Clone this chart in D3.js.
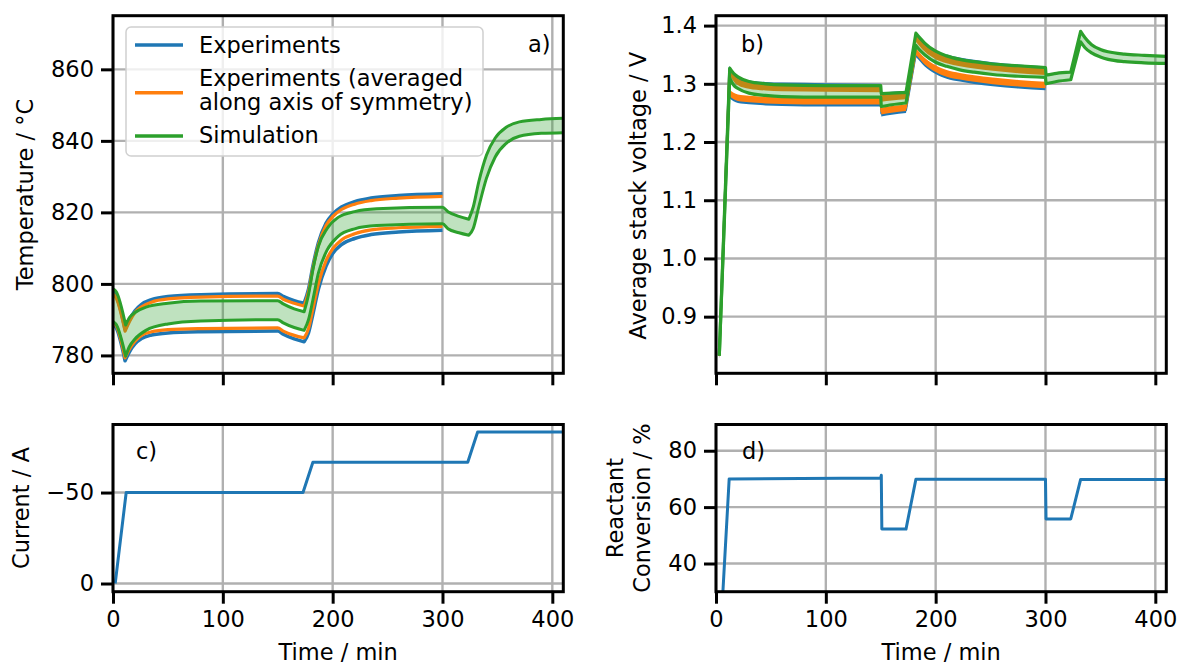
<!DOCTYPE html>
<html lang="en">
<head>
<meta charset="UTF-8">
<title>Stack temperature, voltage, current and conversion</title>
<style>
  body { margin: 0; background: #fff; }
  text { font-family: "DejaVu Sans", sans-serif; fill: #000; }
</style>
</head>
<body>
<script src="https://d3js.org/d3.v7.min.js"></script>
<div id="chart"></div>
<script>
// ---- data ----
const xTicks = [0, 100, 200, 300, 400]

// a) temperature, simulation band
const tempSimTime = [0, 3, 11.5, 15, 20, 30, 50, 80, 150, 155, 165, 174, 178, 182, 187, 195, 205, 220, 240, 300, 305, 315, 324, 328, 333, 340, 348, 358, 370, 390, 410]
const tempSimHi = [798.6, 797.8, 788.5, 790.6, 792, 793.5, 794.6, 795.2, 795.3, 794.4, 793, 792.2, 797, 804, 810.5, 815.5, 818.6, 820.2, 821, 821.4, 820.2, 818.9, 818.1, 821.5, 828.5, 836, 840.8, 843.8, 845.3, 846, 846.3]
const tempSimLo = [789.5, 788.6, 779.8, 782.5, 784.6, 787, 788.8, 789.6, 790, 789.1, 787.8, 787, 790, 795.5, 803, 809.5, 813.3, 815.4, 816.3, 816.8, 815.4, 814.3, 813.6, 815.5, 821.5, 829.5, 835.5, 839.3, 841.3, 842.1, 842.3]
// a) temperature, experiments
const tempExpTime = [0, 3, 11, 15, 20, 26, 35, 50, 80, 150, 155, 165, 174, 178, 182, 187, 194, 200, 208, 220, 235, 260, 300]
const tempExpHi = [797.6, 796.5, 787.3, 790, 792.5, 794.3, 795.6, 796.5, 797, 797.3, 796.5, 795.3, 794.6, 798.5, 805, 811.5, 817, 819.5, 821.5, 823, 824, 824.7, 825.2]
const tempExpLo = [788.8, 787.7, 778.5, 781, 783.2, 784.7, 785.7, 786.3, 786.6, 786.8, 785.9, 784.6, 783.8, 786.3, 791.5, 798.5, 805, 808.5, 811, 812.7, 813.8, 814.5, 815]
const tempAvgHi = [797.2, 796, 786.8, 789.5, 792, 793.6, 794.9, 795.8, 796.3, 796.6, 795.7, 794.6, 793.8, 797.8, 804.3, 810.8, 816.3, 818.8, 820.8, 822.3, 823.3, 824, 824.5]
const tempAvgLo = [789.3, 788.3, 779.3, 781.8, 784, 785.6, 786.6, 787.2, 787.5, 787.7, 786.8, 785.6, 784.9, 787.5, 793, 800, 806.5, 809.8, 812.3, 814, 815.1, 815.7, 816.1]
const tempTicks = [780, 800, 820, 840, 860]
// times where the curves have a corner (dip, jump, peak)
const tempSimCorners = [11.5, 174, 324]
const tempExpCorners = [11, 174]

// b) voltage, simulation band
const voltSimTime = [3, 12.5, 16, 20, 30, 45, 60, 100, 150, 150.5, 160, 173, 182, 186, 190, 200, 210, 222, 235, 252, 275, 300, 300.5, 310, 323, 332, 336, 342, 350, 357, 372, 390, 410]
const voltSimHi = [0.833, 1.327, 1.318, 1.312, 1.304, 1.300, 1.298, 1.297, 1.297, 1.283, 1.284, 1.285, 1.387, 1.378, 1.370, 1.356, 1.348, 1.342, 1.338, 1.334, 1.331, 1.328, 1.315, 1.318, 1.320, 1.390, 1.379, 1.367, 1.359, 1.355, 1.351, 1.349, 1.347]
const voltSimLo = [0.833, 1.310, 1.298, 1.292, 1.284, 1.280, 1.278, 1.277, 1.277, 1.261, 1.264, 1.267, 1.366, 1.357, 1.350, 1.337, 1.330, 1.324, 1.320, 1.316, 1.313, 1.311, 1.300, 1.304, 1.307, 1.372, 1.362, 1.353, 1.346, 1.342, 1.338, 1.336, 1.335]
// b) voltage, experiments
const voltExpTime = [3, 12, 16, 20, 30, 45, 60, 100, 150, 150.5, 160, 173, 182, 186, 190, 200, 210, 222, 235, 252, 275, 300]
const voltExpHi = [0.833, 1.326, 1.314, 1.307, 1.301, 1.298, 1.297, 1.296, 1.295, 1.279, 1.281, 1.283, 1.382, 1.373, 1.365, 1.352, 1.345, 1.340, 1.336, 1.332, 1.328, 1.325]
const voltExpLo = [0.833, 1.281, 1.275, 1.272, 1.270, 1.268, 1.267, 1.266, 1.266, 1.249, 1.252, 1.255, 1.351, 1.343, 1.335, 1.322, 1.314, 1.309, 1.305, 1.301, 1.297, 1.294]
const voltAvgHi = [0.833, 1.322, 1.310, 1.303, 1.297, 1.294, 1.293, 1.292, 1.291, 1.275, 1.277, 1.279, 1.378, 1.369, 1.361, 1.348, 1.341, 1.336, 1.332, 1.328, 1.324, 1.321]
const voltAvgLo = [0.833, 1.285, 1.279, 1.276, 1.274, 1.272, 1.271, 1.270, 1.270, 1.253, 1.256, 1.259, 1.355, 1.347, 1.339, 1.326, 1.318, 1.313, 1.309, 1.305, 1.301, 1.298]
const voltTicks = [0.9, 1.0, 1.1, 1.2, 1.3, 1.4]
const voltSimCorners = [12.5, 150, 150.5, 173, 182, 300, 300.5, 323, 332]
const voltExpCorners = [12, 150, 150.5, 173, 182]

// c) current
const currTime = [2, 12, 173, 182, 323, 332, 410]
const currValue = [0, -50, -50, -66.7, -66.7, -83.3, -83.3]
const currTicks = [0, -50]

// d) reactant conversion
const convTime = [2, 12, 150, 150.5, 151, 173, 182, 300, 300.5, 323, 332, 410]
const convValue = [0, 70, 70.3, 71.3, 52.2, 52.2, 69.9, 69.9, 55.8, 55.8, 69.8, 69.8]
const convTicks = [40, 60, 80]

// ---- layout ----
const W = 1179, H = 665
const FONT = 22.5
const BLUE = "#1f77b4", ORANGE = "#ff7f0e", GREEN = "#2ca02c"
const GRID = "#b0b0b0"

const svg = d3.select("#chart").append("svg")
    .attr("width", W).attr("height", H)

const LEFT_COL = { x0: 113, x1: 563.3 }
const RIGHT_COL = { x0: 716, x1: 1166.3 }
const TOP_ROW = { y0: 15.7, y1: 373.3 }
const BOT_ROW = { y0: 424.5, y1: 591.7 }

let clipId = 0

function makePanel(col, row, yDomain, yTicks, yFormat, showXLabels) {
    const x = d3.scaleLinear().domain([0, 410]).range([col.x0, col.x1])
    const y = d3.scaleLinear().domain(yDomain).range([row.y1, row.y0])
    const g = svg.append("g")

    // grid
    g.append("g").selectAll("line").data(xTicks).join("line")
        .attr("x1", d => x(d)).attr("x2", d => x(d))
        .attr("y1", row.y0).attr("y2", row.y1)
        .attr("stroke", GRID).attr("stroke-width", 2.4)
    g.append("g").selectAll("line").data(yTicks).join("line")
        .attr("x1", col.x0).attr("x2", col.x1)
        .attr("y1", d => y(d)).attr("y2", d => y(d))
        .attr("stroke", GRID).attr("stroke-width", 2.4)

    const id = "clip" + (clipId++)
    svg.append("clipPath").attr("id", id).append("rect")
        .attr("x", col.x0).attr("y", row.y0)
        .attr("width", col.x1 - col.x0).attr("height", row.y1 - row.y0)
    const plot = g.append("g").attr("clip-path", `url(#${id})`)

    // axes
    const xAxis = d3.axisBottom(x).tickValues(xTicks).tickSize(12).tickPadding(7)
    if (!showXLabels) xAxis.tickFormat("")
    const xg = g.append("g").attr("transform", `translate(0,${row.y1})`).call(xAxis)
    const yAxis = d3.axisLeft(y).tickValues(yTicks).tickSize(12).tickPadding(7)
    if (yFormat) yAxis.tickFormat(yFormat)
    const yg = g.append("g").attr("transform", `translate(${col.x0},0)`).call(yAxis)
    for (const ax of [xg, yg]) {
        ax.select(".domain").remove()
        ax.selectAll(".tick line").attr("stroke", "#000").attr("stroke-width", 3)
        ax.selectAll(".tick text")
            .style("font-family", '"DejaVu Sans", sans-serif')
            .style("font-size", FONT + "px").attr("fill", "#000")
    }

    return { x, y, g, plot, col, row }
}

function drawSpines(p) {
    p.g.append("rect")
        .attr("x", p.col.x0).attr("y", p.row.y0)
        .attr("width", p.col.x1 - p.col.x0).attr("height", p.row.y1 - p.row.y0)
        .attr("fill", "none").attr("stroke", "#000").attr("stroke-width", 3)
}

// index ranges between corner points, so smooth pieces meet in sharp corners
function pieces(ts, corners) {
    const cut = [0]
    ts.forEach((t, i) => { if (i > 0 && i < ts.length - 1 && corners.includes(t)) cut.push(i) })
    cut.push(ts.length - 1)
    return d3.range(cut.length - 1).map(k => d3.range(cut[k], cut[k + 1] + 1))
}

function drawLine(p, ts, vs, corners, color, width) {
    const line = d3.line().x(i => p.x(ts[i])).y(i => p.y(vs[i])).curve(d3.curveMonotoneX)
    const d = pieces(ts, corners).map((r, k) => k ? line(r).replace(/^M/, "L") : line(r)).join("")
    p.plot.append("path").attr("d", d)
        .attr("fill", "none").attr("stroke", color).attr("stroke-width", width)
        .attr("stroke-linejoin", "round")
}

// noisy measurement: a line thickened only vertically (noise scatter), then a thin stroke
function drawNoisy(p, ts, vs, corners, color, halfPx) {
    const area = d3.area().x(i => p.x(ts[i]))
        .y0(i => p.y(vs[i]) + halfPx).y1(i => p.y(vs[i]) - halfPx)
        .curve(d3.curveMonotoneX)
    p.plot.append("path").attr("d", pieces(ts, corners).map(r => area(r)).join(""))
        .attr("fill", color)
    drawLine(p, ts, vs, corners, color, 2)
}

function drawBand(p, ts, lo, hi, corners) {
    const area = d3.area().x(i => p.x(ts[i])).y0(i => p.y(lo[i])).y1(i => p.y(hi[i]))
        .curve(d3.curveMonotoneX)
    const d = pieces(ts, corners).map(r => area(r)).join("")
    p.plot.append("path").attr("d", d)
        .attr("fill", GREEN).attr("fill-opacity", 0.3)
}

function panelLabel(txt, x, y) {
    svg.append("text").attr("x", x).attr("y", y)
        .style("font-size", FONT + "px").text(txt)
}

function yLabel(lines, x, cy, lineGap) {
    const t = svg.append("text")
        .attr("transform", `translate(${x},${cy}) rotate(-90)`)
        .attr("text-anchor", "middle")
        .style("font-size", FONT + "px")
    lines.forEach((s, i) => t.append("tspan").attr("x", 0).attr("y", i * lineGap).text(s))
}

// ---- a) temperature ----
const pa = makePanel(LEFT_COL, TOP_ROW, [775, 875], tempTicks, null, false)
drawLine(pa, tempExpTime, tempExpHi, tempExpCorners, BLUE, 3.5)
drawLine(pa, tempExpTime, tempExpLo, tempExpCorners, BLUE, 3.5)
drawLine(pa, tempExpTime, tempAvgHi, tempExpCorners, ORANGE, 3.2)
drawLine(pa, tempExpTime, tempAvgLo, tempExpCorners, ORANGE, 3.2)
drawBand(pa, tempSimTime, tempSimLo, tempSimHi, tempSimCorners)
drawLine(pa, tempSimTime, tempSimHi, tempSimCorners, GREEN, 3)
drawLine(pa, tempSimTime, tempSimLo, tempSimCorners, GREEN, 3)
drawSpines(pa)
panelLabel("a)", 528, 52)
yLabel(["Temperature / °C"], 33, 194.5, 0)

// legend
const leg = svg.append("g")
leg.append("rect").attr("x", 126).attr("y", 27).attr("width", 357).attr("height", 129)
    .attr("rx", 5).attr("fill", "#fff").attr("fill-opacity", 0.8)
    .attr("stroke", "#d0d0d0").attr("stroke-width", 1.5)
const legItems = [
    { color: BLUE, y: 45, lines: ["Experiments"], base: [52.7] },
    { color: ORANGE, y: 92.7, lines: ["Experiments (averaged", "along axis of symmetry)"], base: [86, 110] },
    { color: GREEN, y: 136, lines: ["Simulation"], base: [143.3] }
]
legItems.forEach(it => {
    leg.append("line").attr("x1", 135).attr("x2", 183).attr("y1", it.y).attr("y2", it.y)
        .attr("stroke", it.color).attr("stroke-width", 3.5)
    it.lines.forEach((s, i) => leg.append("text").attr("x", 199).attr("y", it.base[i])
        .style("font-size", FONT + "px").text(s))
})

// ---- b) voltage ----
const pb = makePanel(RIGHT_COL, TOP_ROW, [0.8027, 1.417], voltTicks, d3.format(".1f"), false)
drawNoisy(pb, voltExpTime, voltExpHi, voltExpCorners, BLUE, 3)
drawNoisy(pb, voltExpTime, voltExpLo, voltExpCorners, BLUE, 3)
drawNoisy(pb, voltExpTime, voltAvgHi, voltExpCorners, ORANGE, 3.3)
drawNoisy(pb, voltExpTime, voltAvgLo, voltExpCorners, ORANGE, 3.3)
drawBand(pb, voltSimTime, voltSimLo, voltSimHi, voltSimCorners)
drawLine(pb, voltSimTime, voltSimHi, voltSimCorners, GREEN, 3.2)
drawLine(pb, voltSimTime, voltSimLo, voltSimCorners, GREEN, 3.2)
drawSpines(pb)
panelLabel("b)", 741, 52)
yLabel(["Average stack voltage / V"], 646, 195.8, 0)

// ---- c) current (inverted axis) ----
const pc = makePanel(LEFT_COL, BOT_ROW, [4.5, -87.4], currTicks, null, true)
drawLine(pc, currTime, currValue, currTime, BLUE, 3)
drawSpines(pc)
panelLabel("c)", 136, 459)
yLabel(["Current / A"], 28.5, 508, 0)

// ---- d) conversion ----
const pd = makePanel(RIGHT_COL, BOT_ROW, [30, 89.3], convTicks, null, true)
drawLine(pd, convTime, convValue, convTime, BLUE, 3)
drawSpines(pd)
panelLabel("d)", 742, 459)
yLabel(["Reactant", "Conversion / %"], 623, 508, 27)

// x labels
for (const col of [LEFT_COL, RIGHT_COL]) {
    svg.append("text").attr("x", (col.x0 + col.x1) / 2).attr("y", 660)
        .attr("text-anchor", "middle").style("font-size", FONT + "px").text("Time / min")
}
</script>
</body>
</html>
